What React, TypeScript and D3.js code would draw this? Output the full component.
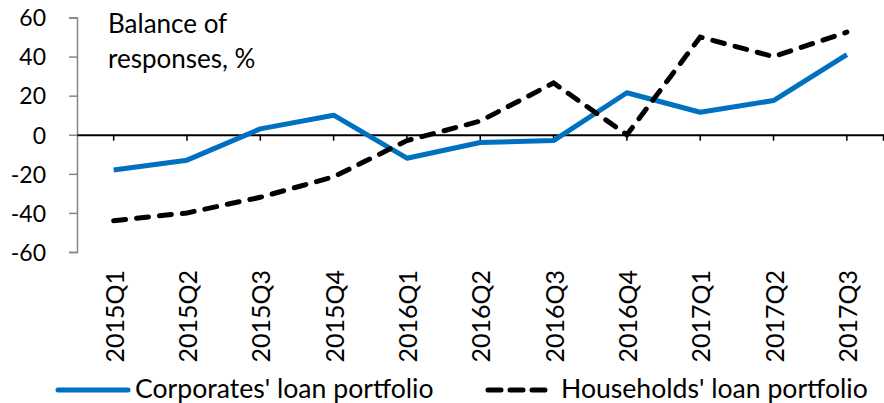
import React, { useEffect, useRef } from 'react'
import * as d3 from 'd3'

// Data
const quarters = ['2015Q1', '2015Q2', '2015Q3', '2015Q4', '2016Q1', '2016Q2', '2016Q3', '2016Q4', '2017Q1', '2017Q2', '2017Q3']
const corporates = [-18, -13, 3, 10, -12, -4, -3, 21.5, 11.5, 17.5, 41]
const households = [-44, -40, -32, -21.5, -3, 7, 26.5, 0, 50, 40, 52.5]
const yTicks = [-60, -40, -20, 0, 20, 40, 60]
const seriesNames = ["Corporates' loan portfolio", "Households' loan portfolio"]

const FONT = 'Lato, sans-serif'

function App() {
  const ref = useRef<SVGSVGElement | null>(null)

  useEffect(() => {
    const svg = d3.select(ref.current)
    svg.selectAll('*').remove()

    const x = d3.scaleBand<string>().domain(quarters).range([77, 883.5]).padding(0)
    const y = d3.scaleLinear().domain([-60, 60]).range([252, 17.5])
    const cx = (q: string) => (x(q) as number) + x.bandwidth() / 2

    // y axis
    const yAxis = d3.axisLeft(y)
      .tickValues(yTicks)
      .tickSize(8)
      .tickPadding(23)
      .tickFormat(d => String(d))
    const gy = svg.append('g').attr('transform', 'translate(77,0)').call(yAxis)
    gy.select('.domain').attr('stroke', '#868686').attr('stroke-width', 1.5)
    gy.selectAll('.tick line').attr('stroke', '#868686').attr('stroke-width', 1.5)
    gy.selectAll('.tick text')
      .attr('font-family', FONT)
      .attr('font-size', 23)
      .attr('fill', '#000')
      .attr('dy', '0.36em')

    // x axis on zero line
    const xAxis = d3.axisBottom(x).tickSize(0).tickFormat(() => '')
    const gx = svg.append('g').attr('transform', `translate(0,${y(0)})`).call(xAxis)
    gx.select('.domain').attr('stroke', '#000').attr('stroke-width', 2)
    gx.selectAll('.tick').remove()
    const tickXs = quarters.map(cx).concat([883.5])
    svg.append('g')
      .selectAll('line')
      .data(tickXs)
      .enter()
      .append('line')
      .attr('x1', d => d)
      .attr('x2', d => d)
      .attr('y1', y(0))
      .attr('y2', y(0) + 6)
      .attr('stroke', '#000')
      .attr('stroke-width', 1.5)

    // category labels
    svg.append('g')
      .selectAll('text')
      .data(quarters)
      .enter()
      .append('text')
      .attr('transform', d => `translate(${cx(d) + 10},270) rotate(-90)`)
      .attr('text-anchor', 'end')
      .attr('font-family', FONT)
      .attr('font-size', 25)
      .text(d => d)

    // lines
    const line = d3.line<number>()
      .x((d, i) => cx(quarters[i]))
      .y(d => y(d))

    svg.append('path')
      .datum(corporates)
      .attr('d', line)
      .attr('fill', 'none')
      .attr('stroke', '#0070C0')
      .attr('stroke-width', 5)
      .attr('stroke-linejoin', 'round')

    svg.append('path')
      .datum(households)
      .attr('d', line)
      .attr('fill', 'none')
      .attr('stroke', '#000')
      .attr('stroke-width', 5)
      .attr('stroke-linecap', 'round')
      .attr('stroke-dasharray', '12,11')

    // axis title
    const title = svg.append('text')
      .attr('font-family', FONT)
      .attr('font-size', 26)
      .attr('fill', '#000')
    title.append('tspan').attr('x', 108).attr('y', 33).text('Balance of')
    title.append('tspan').attr('x', 108).attr('y', 68).text('responses, %')

    // legend
    const legend = svg.append('g')
    legend.append('line')
      .attr('x1', 58).attr('x2', 128).attr('y1', 390).attr('y2', 390)
      .attr('stroke', '#0070C0').attr('stroke-width', 5)
      .attr('stroke-linecap', 'round')
    legend.append('text')
      .attr('x', 135).attr('y', 398)
      .attr('font-family', FONT).attr('font-size', 26.6)
      .text(seriesNames[0])
    legend.append('line')
      .attr('x1', 488).attr('x2', 545).attr('y1', 390).attr('y2', 390)
      .attr('stroke', '#000').attr('stroke-width', 5)
      .attr('stroke-linecap', 'round')
      .attr('stroke-dasharray', '13,9')
    legend.append('text')
      .attr('x', 561).attr('y', 398)
      .attr('font-family', FONT).attr('font-size', 26.6)
      .text(seriesNames[1])
  }, [])

  return (
    <svg
      ref={ref}
      width={884}
      height={403}
      style={{ position: 'absolute', left: 0, top: 0, background: '#fff' }}
    />
  )
}

export default App
